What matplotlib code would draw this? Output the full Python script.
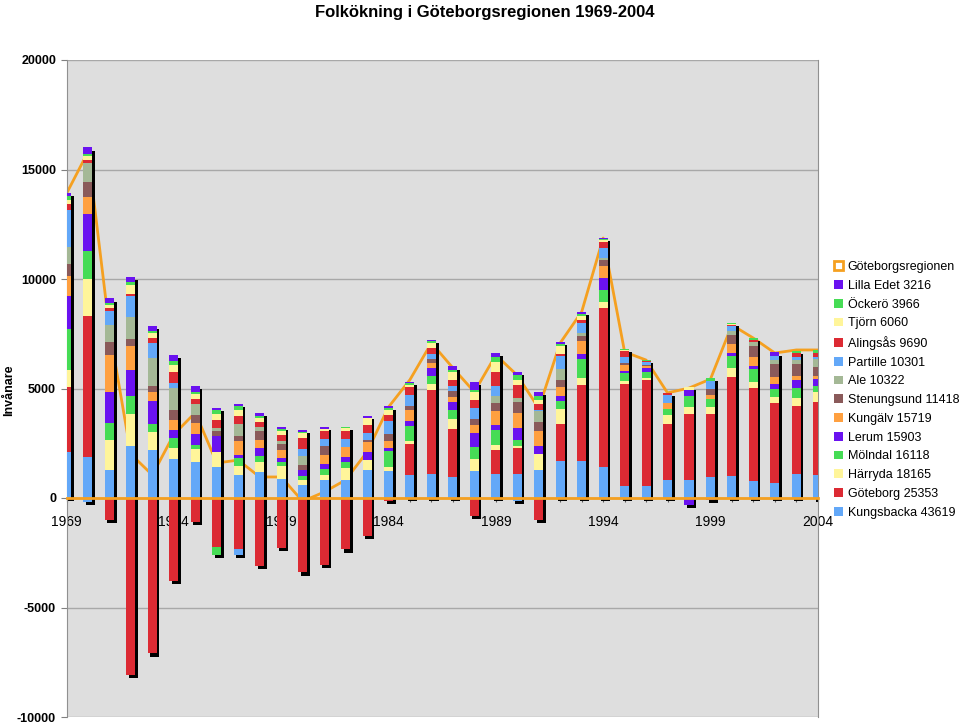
import numpy as np
import matplotlib
matplotlib.use("Agg")
import matplotlib.pyplot as plt
from matplotlib.patches import Patch

plt.rcParams['font.family'] = ['Liberation Sans', 'DejaVu Sans']
plt.rcParams['axes.unicode_minus'] = False

years = list(range(1969, 2005))

# stacking order, bottom to top
municipalities = ["Kungsbacka 43619", "Göteborg 25353", "Härryda 18165", "Mölndal 16118",
                  "Lerum 15903", "Kungälv 15719", "Stenungsund 11418", "Ale 10322",
                  "Partille 10301", "Alingsås 9690", "Tjörn 6060", "Öckerö 3966",
                  "Lilla Edet 3216"]
colors = ["#63a8f8", "#dc2a33", "#fff59a", "#46dc55", "#6a12f0", "#ffa040",
          "#8a5a5a", "#a4b896", "#63a8f8", "#dc2a33", "#fff59a", "#46dc55", "#6a12f0"]

kungsbacka = [2090, 1870, 1290, 2390, 2200, 1780, 1630, 1420, 1070, 1170, 870, 610,
              810, 840, 1290, 1220, 1070, 1100, 960, 1220, 1100, 1100, 1290, 1675,
              1675, 1415, 565, 530, 805, 835, 960, 1020, 760, 685, 1095, 1065]
goteborg = [2980, 6420, -1000, -8100, -7100, -3800, -1100, -2250, -2330, -3100, -2300, -3400,
            -3050, -2350, -1750, -150, 1410, 3820, 2190, -800, 1080, 1190, -1000, 1700,
            3500, 7260, 4660, 4840, 2590, 3010, 2890, 4505, 4260, 3650, 3090, 3300]
harryda = [790, 1700, 1370, 1440, 800, 500, 610, 670, 410, 460, 610, 230,
           260, 530, 430, 200, 140, 290, 455, 560, 260, 100, 730, 685,
           305, 260, 105, 105, 410, 305, 305, 410, 260, 275, 380, 455]
molndal = [1860, 1290, 760, 810, 370, 460, 200, -350, 350, 270, 150, 150,
           260, 260, 0, 745, 685, 350, 395, 550, 685, 245, 0, 350,
           870, 580, 380, 260, 260, 520, 365, 565, 610, 380, 455, 275]
lerum = [1520, 1690, 1410, 1220, 1080, 380, 500, 730, 150, 380, 200, 270,
         240, 240, 365, 120, 200, 380, 365, 640, 230, 560, 365, 260,
         245, 530, 75, 200, 0, 245, 0, 120, 120, 230, 350, 335]
kungalv = [910, 790, 1700, 1060, 380, 460, 490, 0, 610, 370, 380, 0,
           410, 450, 460, 300, 530, 230, 230, 350, 610, 685, 655, 395,
           595, 530, 305, 75, 275, 0, 200, 425, 425, 305, 215, 120]
stenungsund = [550, 650, 580, 350, 290, 460, 380, 230, 260, 400, 270, 250,
               380, 0, 90, 335, 180, 180, 275, 290, 380, 490, 410, 335,
               230, 275, 60, 75, 0, 0, 260, 410, 490, 610, 550, 425]
ale = [760, 870, 790, 990, 1260, 990, 460, 150, 550, 210, 100, 400,
       0, 0, 0, 0, 0, 0, 0, 0, 335, 200, 500, 490,
       120, 100, 0, 0, 0, 0, 0, 150, 180, 180, 180, 365]
partille = [1700, -200, 650, 970, 710, 200, 0, 0, -250, 0, 0, 350,
            330, 360, 335, 580, 500, 245, 230, 500, 425, -150, 75, 580,
            455, 455, 305, 105, 380, 0, 350, 230, 0, 150, 120, 120]
alingsas = [270, 150, 110, 90, 200, 530, 260, 380, 330, 200, 300, 480,
            350, 380, 380, 300, 350, 260, 300, 380, 640, 610, 275, 120,
            120, 305, 260, 45, 75, 0, 0, 75, 120, 0, 180, 150]
tjorn = [180, 200, 150, 410, 230, 330, 230, 270, 300, 200, 200, 230,
         100, 120, 300, 230, 100, 200, 335, 335, 470, 200, 180, 365,
         215, 75, 50, 30, 0, 150, 0, 40, 0, 0, 0, 0]
ockero = [180, 75, 100, 150, 120, 150, 90, 180, 150, 80, 75, 50,
          0, 60, 0, 75, 100, 100, 90, 120, 230, 215, 180, 90,
          90, 45, 50, 30, 0, 0, 150, 35, 75, 0, 120, 150]
lilla_edet = [120, 300, 200, 200, 210, 300, 260, 100, 120, 150, 100, 100,
              90, 0, 100, 75, 50, 75, 180, 335, 180, 150, 200, 90,
              90, 60, 0, 0, 0, -300, -100, 0, 0, 180, 0, -50]

# Göteborgsregionen total
region_total = [13900, 15800, 7700, 2000, 1050, 2900, 3900, 1600, 1730, 960, 960, -150,
                270, 820, 2100, 4150, 5400, 7080, 5940, 4840, 6530, 5600, 4100, 7080,
                8500, 11870, 6670, 6300, 4800, 5020, 5430, 7900, 7300, 6620, 6760, 6760]

series = [kungsbacka, goteborg, harryda, molndal, lerum, kungalv, stenungsund, ale,
          partille, alingsas, tjorn, ockero, lilla_edet]

fig = plt.figure(figsize=(9.6, 7.23), dpi=100)
ax = fig.add_axes([66.5 / 960, 6 / 723, (817.8 - 66.5) / 960, (717 - 60) / 723])
ax.set_facecolor("#dedede")

x = np.arange(len(years))
width = 0.42
data = np.array(series, dtype=float)
pos = np.where(data > 0, data, 0)
neg = np.where(data < 0, data, 0)
pos_top = pos.sum(axis=0)
neg_bot = neg.sum(axis=0)

# black 3D shadow behind each column
dx, dy = 0.12, 140
ax.bar(x + dx, pos_top - neg_bot, width, bottom=neg_bot - dy, color="black", zorder=2)

pos_base = np.zeros(len(years))
neg_base = np.zeros(len(years))
for vals_p, vals_n, col in zip(pos, neg, colors):
    ax.bar(x, vals_p, width, bottom=pos_base, color=col, zorder=3, linewidth=0)
    ax.bar(x, vals_n, width, bottom=neg_base, color=col, zorder=3, linewidth=0)
    pos_base += vals_p
    neg_base += vals_n

ax.plot(x, region_total, color="#f5a020", linewidth=2, zorder=1.5)

ax.set_xlim(0, len(years) - 1)
ax.set_ylim(-10000, 20000)
ax.set_yticks(np.arange(-10000, 20001, 5000))
ax.yaxis.grid(True, color="#a8a8a8", linewidth=1)
ax.set_axisbelow(True)

ax.set_xticks(x)
ax.set_xticklabels([str(y) if (y - 1969) % 5 == 0 else "" for y in years],
                   fontweight="bold", fontsize=9)
ax.tick_params(axis="x", length=3, width=0.8, color="#555555", pad=9)
ax.tick_params(axis="y", length=4, color="#808080", labelsize=9)
for lab in ax.get_yticklabels():
    lab.set_fontweight("bold")

ax.spines["bottom"].set_position(("data", 0))
ax.spines["bottom"].set_color("#f5a020")
ax.spines["bottom"].set_linewidth(2)
ax.spines["bottom"].set_zorder(4)
for s in ["left", "right", "top"]:
    ax.spines[s].set_color("#909090")
ax.spines["top"].set_visible(False)

fig.text(485 / 960, 1 - 12 / 723, "Folkökning i Göteborgsregionen 1969-2004",
         ha="center", va="center", fontsize=12, fontweight="bold")
fig.text(9 / 960, 1 - 390 / 723, "Invånare", rotation=90, ha="center", va="center",
         fontsize=9, fontweight="bold")

handles = [Patch(facecolor="white", edgecolor="#f5a020", linewidth=2)]
labels = ["Göteborgsregionen"]
for name, col in zip(municipalities[::-1], colors[::-1]):
    handles.append(Patch(facecolor=col, edgecolor="none"))
    labels.append(name)
fig.legend(handles, labels, loc="upper left", bbox_to_anchor=(834 / 960, 1 - 261 / 723),
           frameon=False, fontsize=9, handlelength=0.7, handleheight=0.7,
           handletextpad=0.4, labelspacing=0.54, borderaxespad=0, borderpad=0)

fig.savefig("out.png", dpi=100)
